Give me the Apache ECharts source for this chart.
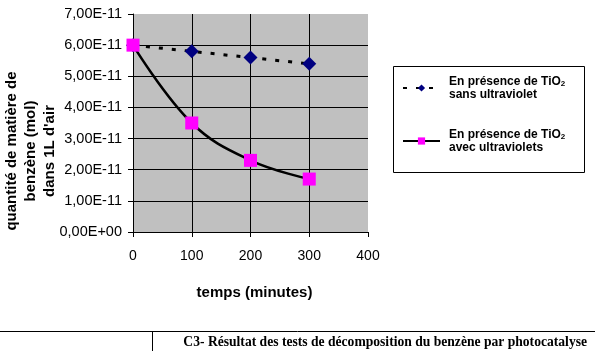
<!DOCTYPE html>
<html>
<head>
<meta charset="utf-8">
<script src="https://cdn.jsdelivr.net/npm/echarts@6/dist/echarts.min.js"></script>
<style>
  html, body { margin: 0; padding: 0; background: #fff; }
  #chart { width: 595px; height: 351px; }
</style>
</head>
<body>
<div id="chart"></div>
<script>
// temps (minutes)
const times = [0, 100, 200, 300]
// quantité de benzène (mol) dans 1L d'air
const sansUV = [6.0e-11, 5.8e-11, 5.6e-11, 5.4e-11]
const avecUV = [6.0e-11, 3.5e-11, 2.3e-11, 1.7e-11]
const seriesNames = [
  'En présence de TiO2 sans ultraviolet',
  'En présence de TiO2 avec ultraviolets'
]

const font = 'Arial, "Liberation Sans", sans-serif'

function sciLabel(v) {
  if (v === 0) return '0,00E+00'
  return (v / 1e-11).toFixed(2).replace('.', ',') + 'E-11'
}

const chart = echarts.init(document.getElementById('chart'))

chart.setOption({
  backgroundColor: '#fff',
  animation: false,
  grid: {
    left: 133,
    right: 227,
    top: 14,
    bottom: 119,
    show: true,
    backgroundColor: '#c0c0c0',
    borderWidth: 0
  },
  xAxis: {
    type: 'value',
    min: 0,
    max: 400,
    interval: 100,
    name: 'temps (minutes)',
    nameLocation: 'middle',
    nameGap: 53,
    nameTextStyle: { fontFamily: font, fontWeight: 'bold', fontSize: 15, color: '#000', padding: [0, 0, 0, 8] },
    axisLine: { lineStyle: { color: '#000', width: 1 } },
    axisTick: { show: true, length: 5, lineStyle: { color: '#000' } },
    axisLabel: { fontFamily: font, fontSize: 14, color: '#000', margin: 17 },
    splitLine: { show: true, showMaxLine: false, lineStyle: { color: '#000', width: 1 } }
  },
  yAxis: {
    type: 'value',
    min: 0,
    max: 7e-11,
    interval: 1e-11,
    axisLine: { show: true, lineStyle: { color: '#000', width: 1 } },
    axisTick: { show: true, length: 5, lineStyle: { color: '#000' } },
    axisLabel: { fontFamily: font, fontSize: 14.5, color: '#000', margin: 11, formatter: sciLabel },
    splitLine: { show: true, showMaxLine: false, lineStyle: { color: '#000', width: 1 } }
  },
  legend: {
    orient: 'vertical',
    left: 397,
    top: 70,
    itemWidth: 37,
    itemHeight: 9,
    itemGap: 27,
    data: seriesNames,
    formatter: function(name) {
      const parts = name.split(' TiO2 ')
      return parts[0] + ' TiO{sub|2}\n' + parts[1]
    },
    textStyle: {
      fontFamily: font,
      fontSize: 12,
      fontWeight: 'bold',
      color: '#000',
      lineHeight: 13,
      padding: [0, 0, 0, 4],
      rich: {
        sub: { fontFamily: font, fontSize: 8, fontWeight: 'bold', color: '#000', verticalAlign: 'bottom', lineHeight: 13, padding: [5, 0, 0, 0] }
      }
    }
  },
  graphic: [
    {
      type: 'rect',
      shape: { x: 393.5, y: 66.5, width: 191, height: 106 },
      style: { fill: 'none', stroke: '#000', lineWidth: 1 },
      z: -1
    },
    {
      type: 'text',
      x: 31,
      y: 151,
      rotation: Math.PI / 2,
      style: {
        text: "quantité de matière de\nbenzène (mol)\ndans 1L d'air",
        font: 'bold 15px ' + font,
        fill: '#000',
        align: 'center',
        verticalAlign: 'middle',
        lineHeight: 19
      }
    },
    {
      type: 'line',
      shape: { x1: 0, y1: 331.5, x2: 595, y2: 331.5 },
      style: { stroke: '#000', lineWidth: 1 }
    },
    {
      type: 'line',
      shape: { x1: 152.5, y1: 331, x2: 152.5, y2: 351 },
      style: { stroke: '#000', lineWidth: 1 }
    },
    {
      type: 'text',
      x: 587,
      y: 342,
      style: {
        text: 'C3- Résultat des tests de décomposition du benzène par photocatalyse',
        font: 'bold 13.6px "Liberation Serif", "DejaVu Serif", serif',
        fill: '#000',
        align: 'right',
        verticalAlign: 'middle'
      }
    }
  ],
  series: [
    {
      name: seriesNames[0],
      type: 'line',
      data: times.map((t, i) => [t, sansUV[i]]),
      symbol: 'diamond',
      symbolSize: 14,
      itemStyle: { color: '#000080' },
      lineStyle: { color: '#000', width: 3, type: [4, 9] },
      z: 2
    },
    {
      name: seriesNames[1],
      type: 'line',
      data: times.map((t, i) => [t, avecUV[i]]),
      smooth: 0.4,
      symbol: 'rect',
      symbolSize: 13,
      itemStyle: { color: '#ff00ff' },
      lineStyle: { color: '#000', width: 2.5 },
      z: 3
    }
  ]
})
</script>
</body>
</html>
